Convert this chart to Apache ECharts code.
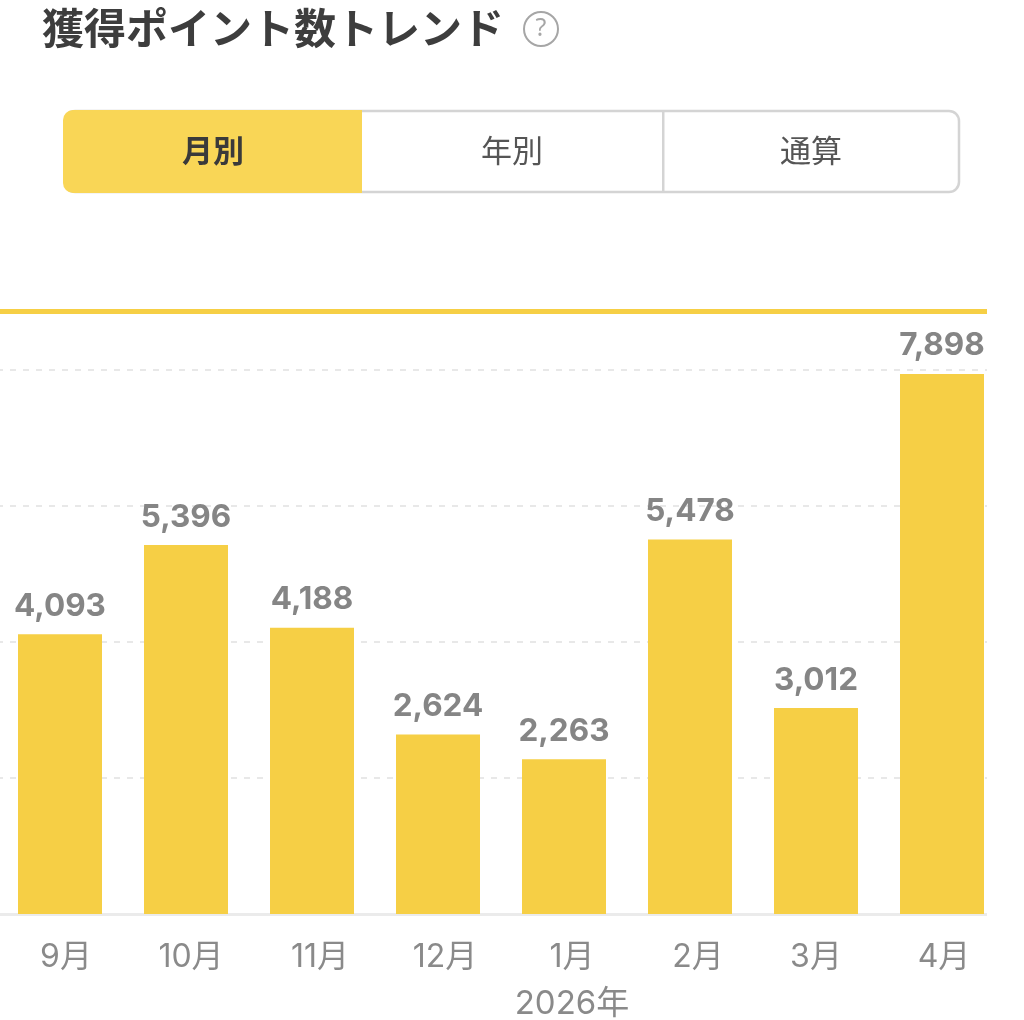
<!DOCTYPE html>
<html><head><meta charset="utf-8">
<style>html,body{margin:0;padding:0;background:#fff}#c{width:1024px;height:1020px}</style>
<script src="https://cdn.jsdelivr.net/npm/echarts@6/dist/echarts.min.js"></script>
</head><body><div id="c"></div>
<script>
const categories = ['9月','10月','11月','12月','1月','2月','3月','4月'];
const points = [4093,5396,4188,2624,2263,5478,3012,7898];
const yearLabel = '2026年';
const titleText = '獲得ポイント数トレンド';
const tabs = ['月別','年別','通算'];
const labelNudge = [12,10,16,14,16,16,0,4];
const JP = '"Noto Sans CJK JP","Noto Sans",sans-serif';
const AX = 'Inter,"Noto Sans CJK JP",sans-serif';
const chart = echarts.init(document.getElementById('c'));
chart.setOption({
  animation:false,
  backgroundColor:'#fff',
  title:{text:titleText,left:37,top:2,textStyle:{fontFamily:JP,fontSize:42,fontWeight:'bold',color:'#3d3d3d'}},
  grid:{left:-3,width:1008,top:370,height:544,containLabel:false,outerBoundsMode:'none'},
  xAxis:{type:'category',
    data:categories.map((c,i)=>({value:c,textStyle:{padding:[0,0,0,labelNudge[i]]}})),
    axisLine:{lineStyle:{color:'#ebebeb',width:3}},axisTick:{show:false},
    axisLabel:{fontFamily:AX,fontSize:32,color:'#8a8a8a',margin:27,hideOverlap:false,interval:0}},
  yAxis:{type:'value',min:0,max:7956,interval:1989,axisLabel:{show:false},axisLine:{show:false},axisTick:{show:false},
    splitLine:{lineStyle:{color:'#e8e8e8',width:2,type:[6,7]}}},
  series:[{type:'bar',data:points,barWidth:84,itemStyle:{color:'#f6cf45'},
    label:{show:true,position:'top',distance:12,fontFamily:'Inter,sans-serif',fontWeight:700,fontSize:31.5,color:'#858585',
      formatter:p=>p.value.toLocaleString('en-US')}}],
  graphic:[
    {type:'rect',z:50,shape:{x:987,y:300,width:37,height:620},style:{fill:'#fff'}},
    {type:'rect',z:51,shape:{x:0,y:309,width:987,height:5},style:{fill:'#f6cf45'}},
    {type:'circle',z:51,shape:{cx:541,cy:29,r:17},style:{fill:'#fff',stroke:'#a6a6a6',lineWidth:2}},
    {type:'text',z:52,style:{x:541,y:29,text:'?',align:'center',verticalAlign:'middle',font:'25px "Noto Sans",sans-serif',fill:'#a6a6a6'}},
    {type:'rect',z:51,shape:{x:65,y:111,width:894,height:81,r:10},style:{fill:'#fff',stroke:'#d4d4d4',lineWidth:2.5}},
    {type:'rect',z:52,shape:{x:63,y:110,width:299,height:83,r:[10,0,0,10]},style:{fill:'#f9d656'}},
    {type:'rect',z:52,shape:{x:662,y:110,width:2.5,height:82},style:{fill:'#d4d4d4'}},
    {type:'text',z:53,style:{x:213,y:150,text:tabs[0],align:'center',verticalAlign:'middle',font:'bold 31px '+JP,fill:'#3a3a3a'}},
    {type:'text',z:53,style:{x:512,y:150,text:tabs[1],align:'center',verticalAlign:'middle',font:'31px '+JP,fill:'#555'}},
    {type:'text',z:53,style:{x:811,y:150,text:tabs[2],align:'center',verticalAlign:'middle',font:'31px '+JP,fill:'#555'}},
    {type:'text',z:53,style:{x:572,y:1004,text:yearLabel,align:'center',verticalAlign:'middle',font:'33px '+AX,fill:'#8a8a8a'}}
  ]
});
</script></body></html>
